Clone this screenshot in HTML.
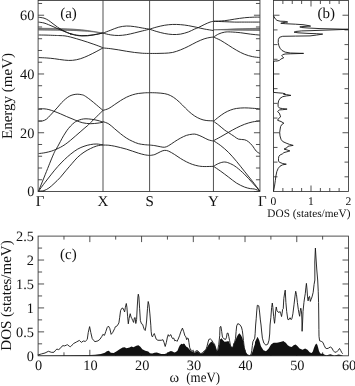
<!DOCTYPE html>
<html><head><meta charset="utf-8"><title>Phonon dispersion and DOS</title>
<style>html,body{margin:0;padding:0;background:#fff}svg{display:block}</style></head>
<body>
<svg width="355" height="386" viewBox="0 0 355 386">
<rect width="355" height="386" fill="#fff"/>
<path d="M38.3,27.9 L57.5,28.2 L65,28.5 L76.3,29.1 L87.5,30.2 L103,33 L87.5,31.6 L76.3,30.9 L65,30.6 L57.5,30.5 L38.3,30.3 Z" fill="#858585"/>
<path d="M213.45,29.8 L236,28.6 L259.9,27.9 L259.9,30.7 L236,30.4 Z" fill="#858585"/>
<g fill="none" stroke="#5a5a5a" stroke-width="0.6">
<path d="M38.50,28.20 C41.67,28.25 53.08,28.40 57.50,28.50 C61.92,28.60 61.87,28.65 65.00,28.80 C68.13,28.95 72.55,29.12 76.30,29.40 C80.05,29.68 83.05,29.90 87.50,30.50 C91.95,31.10 100.42,32.58 103.00,33.00"/>
<path d="M38.50,30.00 C41.67,30.03 53.08,30.15 57.50,30.20 C61.92,30.25 61.87,30.23 65.00,30.30 C68.13,30.37 72.55,30.43 76.30,30.60 C80.05,30.77 83.05,30.90 87.50,31.30 C91.95,31.70 100.42,32.72 103.00,33.00"/>
<path d="M213.45,29.80 C217.21,29.67 228.26,29.27 236.00,29.00 C243.74,28.73 255.92,28.33 259.90,28.20"/>
<path d="M213.45,29.80 C217.21,29.83 228.26,29.90 236.00,30.00 C243.74,30.10 255.92,30.33 259.90,30.40"/>
</g>
<g fill="none" stroke="#151515" stroke-width="0.9" stroke-linejoin="round">
<path d="M38.38,17.24 C39.32,17.39 42.32,17.62 44.01,18.14 C45.70,18.67 47.02,19.46 48.52,20.39 C50.02,21.33 51.53,22.65 53.03,23.77 C54.53,24.90 56.03,26.12 57.54,27.15 C59.04,28.19 60.54,29.13 62.04,29.97 C63.54,30.82 65.05,31.53 66.55,32.23 C68.05,32.92 70.38,33.86 71.06,34.14 C71.74,34.42 69.77,33.71 70.63,33.92 C71.50,34.12 74.39,35.04 76.27,35.38 C78.15,35.72 80.02,35.87 81.90,35.94 C83.78,36.02 85.66,35.98 87.54,35.83 C89.41,35.68 91.29,35.36 93.17,35.04 C95.05,34.72 97.21,34.25 98.80,33.92 C100.40,33.58 102.09,33.16 102.75,33.01"/>
<path d="M38.38,22.08 C39.32,22.23 42.32,22.55 44.01,22.99 C45.70,23.42 47.02,24.08 48.52,24.68 C50.02,25.28 51.53,25.93 53.03,26.59 C54.53,27.25 56.03,27.96 57.54,28.62 C59.04,29.28 60.54,29.92 62.04,30.54 C63.54,31.15 65.05,31.77 66.55,32.34 C68.05,32.90 70.38,33.69 71.06,33.92 C71.74,34.14 69.77,33.50 70.63,33.69 C71.50,33.88 74.39,34.72 76.27,35.04 C78.15,35.36 80.02,35.53 81.90,35.61 C83.78,35.68 85.66,35.62 87.54,35.49 C89.41,35.36 91.29,35.10 93.17,34.82 C95.05,34.54 97.21,34.10 98.80,33.80 C100.40,33.50 102.09,33.15 102.75,33.01"/>
<path d="M38.50,35.00 C39.75,35.02 43.30,35.03 46.00,35.10 C48.70,35.17 52.37,35.32 54.70,35.40 C57.03,35.48 58.28,35.52 60.00,35.60 C61.72,35.68 63.23,35.65 65.00,35.90 C66.77,36.15 68.76,36.61 70.63,37.07 C72.51,37.53 74.39,38.10 76.27,38.65 C78.15,39.19 80.02,39.76 81.90,40.34 C83.78,40.92 85.66,41.52 87.54,42.14 C89.41,42.76 91.29,43.40 93.17,44.06 C95.05,44.71 97.21,45.48 98.80,46.08 C100.40,46.69 102.09,47.40 102.75,47.66"/>
<path d="M38.55,57.58 C39.93,57.64 44.14,57.77 46.83,57.97 C49.53,58.17 51.76,58.40 54.72,58.76 C57.68,59.12 61.62,59.88 64.58,60.14 C67.54,60.40 69.84,60.57 72.46,60.34 C75.09,60.11 77.72,59.55 80.35,58.76 C82.98,57.97 85.61,56.79 88.24,55.61 C90.87,54.42 93.66,52.94 96.13,51.66 C98.59,50.38 101.88,48.54 103.03,47.92"/>
<path d="M38.50,121.10 C39.18,121.07 41.28,121.22 42.60,120.90 C43.92,120.58 45.13,120.12 46.40,119.20 C47.67,118.28 48.93,116.72 50.20,115.40 C51.47,114.08 52.73,112.68 54.00,111.30 C55.27,109.92 56.53,108.53 57.80,107.10 C59.07,105.67 60.33,104.03 61.60,102.70 C62.87,101.37 64.13,100.17 65.40,99.10 C66.67,98.03 67.93,97.02 69.20,96.30 C70.47,95.58 71.67,95.15 73.00,94.80 C74.33,94.45 75.87,94.23 77.20,94.20 C78.53,94.17 79.82,94.37 81.00,94.60 C82.18,94.83 82.75,94.73 84.30,95.60 C85.85,96.47 88.27,98.25 90.30,99.80 C92.33,101.35 94.38,103.13 96.50,104.90 C98.62,106.67 101.92,109.48 103.00,110.40"/>
<path d="M38.50,108.80 C39.40,108.80 42.17,108.67 43.90,108.80 C45.63,108.93 47.22,109.18 48.90,109.60 C50.58,110.02 52.08,110.60 54.00,111.30 C55.92,112.00 58.28,112.92 60.40,113.80 C62.52,114.68 64.60,115.70 66.70,116.60 C68.80,117.50 71.27,118.48 73.00,119.20 C74.73,119.92 75.47,120.30 77.10,120.90 C78.73,121.50 80.58,122.33 82.80,122.80 C85.02,123.27 87.87,123.65 90.40,123.70 C92.93,123.75 95.90,123.35 98.00,123.10 C100.10,122.85 102.17,122.35 103.00,122.20"/>
<path d="M38.50,191.20 C39.18,189.52 41.07,184.90 42.60,181.10 C44.13,177.30 46.22,172.10 47.70,168.40 C49.18,164.70 50.38,161.60 51.50,158.90 C52.62,156.20 53.67,153.75 54.40,152.20 C55.13,150.65 55.33,150.58 55.90,149.60 C56.47,148.62 57.05,147.65 57.80,146.30 C58.55,144.95 59.45,143.25 60.40,141.50 C61.35,139.75 62.45,137.58 63.50,135.80 C64.55,134.02 65.53,132.42 66.70,130.80 C67.87,129.18 69.23,127.47 70.50,126.10 C71.77,124.73 73.20,123.47 74.30,122.60 C75.40,121.73 75.90,121.45 77.10,120.90 C78.30,120.35 80.02,119.65 81.50,119.30 C82.98,118.95 84.30,118.80 86.00,118.80 C87.70,118.80 89.70,119.02 91.70,119.30 C93.70,119.58 96.12,120.02 98.00,120.50 C99.88,120.98 102.17,121.92 103.00,122.20"/>
<path d="M38.50,153.60 C39.60,153.45 42.93,153.12 45.10,152.70 C47.27,152.28 49.70,151.65 51.50,151.10 C53.30,150.55 54.42,150.03 55.90,149.40 C57.38,148.77 58.85,148.13 60.40,147.30 C61.95,146.47 63.52,145.57 65.20,144.40 C66.88,143.23 68.77,141.72 70.50,140.30 C72.23,138.88 74.00,137.28 75.60,135.90 C77.20,134.52 78.68,133.23 80.10,132.00 C81.52,130.77 82.82,129.60 84.10,128.50 C85.38,127.40 86.75,126.35 87.80,125.40 C88.85,124.45 88.90,124.28 90.40,122.80 C91.90,121.32 94.70,118.57 96.80,116.50 C98.90,114.43 101.97,111.42 103.00,110.40"/>
<path d="M38.50,191.20 C39.60,189.72 42.93,185.15 45.10,182.30 C47.27,179.45 49.38,176.73 51.50,174.10 C53.62,171.47 55.65,168.90 57.80,166.50 C59.95,164.10 62.23,161.78 64.40,159.70 C66.57,157.62 68.58,155.77 70.80,154.00 C73.02,152.23 75.50,150.38 77.70,149.10 C79.90,147.82 81.88,147.05 84.00,146.30 C86.12,145.55 88.28,144.98 90.40,144.60 C92.52,144.22 94.60,143.95 96.70,144.00 C98.80,144.05 101.95,144.75 103.00,144.90"/>
<path d="M38.50,191.20 C39.40,191.10 42.17,191.13 43.90,190.60 C45.63,190.07 47.22,189.17 48.90,188.00 C50.58,186.83 52.08,185.38 54.00,183.60 C55.92,181.82 58.37,179.52 60.40,177.30 C62.43,175.08 64.23,172.63 66.20,170.30 C68.17,167.97 70.28,165.48 72.20,163.30 C74.12,161.12 75.73,159.05 77.70,157.20 C79.67,155.35 81.88,153.63 84.00,152.20 C86.12,150.77 88.28,149.63 90.40,148.60 C92.52,147.57 94.60,146.62 96.70,146.00 C98.80,145.38 101.95,145.08 103.00,144.90"/>
<path d="M102.89,33.13 C104.20,32.63 108.15,31.15 110.77,30.17 C113.40,29.18 116.03,27.90 118.66,27.21 C121.29,26.52 123.92,26.13 126.55,26.03 C129.18,25.93 131.81,26.29 134.44,26.62 C137.07,26.95 139.79,27.57 142.32,28.00 C144.85,28.43 148.40,28.99 149.62,29.18"/>
<path d="M102.89,33.13 C104.20,33.42 108.15,34.51 110.77,34.90 C113.40,35.30 116.03,35.53 118.66,35.49 C121.29,35.46 123.92,35.13 126.55,34.70 C129.18,34.28 131.81,33.55 134.44,32.93 C137.07,32.31 139.79,31.58 142.32,30.96 C144.85,30.33 148.40,29.48 149.62,29.18"/>
<path d="M102.89,47.92 C104.20,48.05 108.15,48.38 110.77,48.70 C113.40,49.03 116.03,49.46 118.66,49.89 C121.29,50.31 123.92,50.84 126.55,51.27 C129.18,51.69 131.81,52.12 134.44,52.45 C137.07,52.78 139.79,53.08 142.32,53.24 C144.85,53.40 148.40,53.40 149.62,53.44"/>
<path d="M102.89,110.42 C103.87,110.09 106.83,109.44 108.80,108.45 C110.77,107.46 112.75,105.82 114.72,104.51 C116.69,103.19 118.66,101.78 120.63,100.56 C122.61,99.35 124.58,98.16 126.55,97.21 C128.52,96.26 130.49,95.47 132.46,94.85 C134.44,94.22 136.41,93.79 138.38,93.46 C140.35,93.14 142.42,93.00 144.30,92.87 C146.17,92.74 148.73,92.71 149.62,92.68"/>
<path d="M102.89,121.58 C103.87,121.97 106.83,122.73 108.80,123.94 C110.77,125.16 112.75,127.23 114.72,128.87 C116.69,130.52 118.66,132.26 120.63,133.80 C122.61,135.35 124.58,136.89 126.55,138.14 C128.52,139.39 130.49,140.38 132.46,141.30 C134.44,142.22 136.41,143.10 138.38,143.66 C140.35,144.22 142.42,144.42 144.30,144.65 C146.17,144.88 148.73,144.98 149.62,145.04"/>
<path d="M102.89,145.04 C103.87,145.08 106.83,145.04 108.80,145.24 C110.77,145.44 112.75,145.83 114.72,146.23 C116.69,146.62 118.66,147.11 120.63,147.61 C122.61,148.10 124.58,148.59 126.55,149.18 C128.52,149.77 130.49,150.50 132.46,151.15 C134.44,151.81 136.41,152.54 138.38,153.13 C140.35,153.72 142.42,154.31 144.30,154.70 C146.17,155.10 148.73,155.36 149.62,155.49"/>
<path d="M149.54,29.18 C150.75,28.82 154.30,27.67 156.83,27.01 C159.36,26.36 162.09,25.67 164.72,25.24 C167.35,24.81 169.98,24.55 172.61,24.45 C175.23,24.35 177.86,24.45 180.49,24.65 C183.12,24.85 185.75,25.21 188.38,25.63 C191.01,26.06 193.64,26.65 196.27,27.21 C198.90,27.77 201.26,28.43 204.15,28.99 C207.05,29.54 212.04,30.30 213.62,30.56"/>
<path d="M149.54,29.18 C150.75,29.58 154.30,30.83 156.83,31.55 C159.36,32.27 162.09,33.03 164.72,33.52 C167.35,34.01 169.98,34.41 172.61,34.51 C175.23,34.61 177.86,34.54 180.49,34.11 C183.12,33.69 186.08,32.77 188.38,31.94 C190.68,31.12 192.65,29.91 194.30,29.18 C195.94,28.46 196.60,28.36 198.24,27.61 C199.88,26.85 202.18,25.57 204.15,24.65 C206.13,23.73 208.49,22.64 210.07,22.08 C211.65,21.53 213.03,21.43 213.62,21.30"/>
<path d="M149.54,53.44 C150.75,53.44 154.30,53.47 156.83,53.44 C159.36,53.40 162.09,53.40 164.72,53.24 C167.35,53.08 169.98,53.01 172.61,52.45 C175.23,51.89 177.86,50.91 180.49,49.89 C183.12,48.87 185.75,47.62 188.38,46.34 C191.01,45.06 193.64,43.45 196.27,42.20 C198.90,40.95 201.85,39.63 204.15,38.85 C206.46,38.06 208.49,37.76 210.07,37.46 C211.65,37.17 213.03,37.14 213.62,37.07"/>
<path d="M149.54,92.68 C150.75,92.71 154.30,92.71 156.83,92.87 C159.36,93.04 162.42,93.20 164.72,93.66 C167.02,94.12 168.66,94.65 170.63,95.63 C172.61,96.62 174.58,98.00 176.55,99.58 C178.52,101.15 180.49,103.19 182.46,105.10 C184.44,107.00 186.41,109.24 188.38,111.01 C190.35,112.79 192.32,114.43 194.30,115.75 C196.27,117.06 198.24,118.11 200.21,118.90 C202.18,119.69 203.89,120.15 206.13,120.48 C208.36,120.81 212.37,120.81 213.62,120.87"/>
<path d="M149.54,145.04 C150.42,145.14 152.99,145.34 154.86,145.63 C156.73,145.93 159.13,146.55 160.77,146.82 C162.42,147.08 163.40,147.41 164.72,147.21 C166.03,147.01 167.02,146.55 168.66,145.63 C170.31,144.71 172.61,142.94 174.58,141.69 C176.55,140.44 178.52,139.19 180.49,138.14 C182.46,137.09 184.44,136.04 186.41,135.38 C188.38,134.72 190.68,134.36 192.32,134.20 C193.97,134.03 194.62,133.97 196.27,134.39 C197.91,134.82 200.21,135.87 202.18,136.76 C204.15,137.65 206.19,139.00 208.10,139.72 C210.00,140.44 212.70,140.87 213.62,141.10"/>
<path d="M149.54,155.49 C150.42,155.33 152.99,155.16 154.86,154.51 C156.73,153.85 159.13,152.24 160.77,151.55 C162.42,150.86 163.40,150.43 164.72,150.37 C166.03,150.30 167.02,150.46 168.66,151.15 C170.31,151.85 172.61,153.29 174.58,154.51 C176.55,155.72 178.52,157.23 180.49,158.45 C182.46,159.67 184.44,160.82 186.41,161.80 C188.38,162.79 190.35,163.68 192.32,164.37 C194.30,165.06 196.27,165.58 198.24,165.94 C200.21,166.31 201.59,166.47 204.15,166.54 C206.72,166.60 212.04,166.37 213.62,166.34"/>
<path d="M213.48,21.30 C215.35,21.20 221.20,21.07 224.72,20.70 C228.23,20.34 231.29,19.62 234.58,19.13 C237.86,18.63 241.15,18.08 244.44,17.75 C247.72,17.42 251.73,17.25 254.30,17.15 C256.86,17.06 258.90,17.15 259.82,17.15"/>
<path d="M213.48,21.30 C215.35,21.36 221.20,21.56 224.72,21.69 C228.23,21.82 231.29,22.02 234.58,22.08 C237.86,22.15 240.23,22.08 244.44,22.08 C248.64,22.08 257.25,22.08 259.82,22.08"/>
<path d="M213.48,37.07 C214.37,36.54 216.93,34.74 218.80,33.92 C220.68,33.09 222.75,32.47 224.72,32.14 C226.69,31.81 228.00,31.85 230.63,31.94 C233.26,32.04 237.21,32.37 240.49,32.73 C243.78,33.09 247.13,33.72 250.35,34.11 C253.57,34.51 258.24,34.93 259.82,35.10"/>
<path d="M213.48,37.07 C214.69,37.63 218.24,39.04 220.77,40.42 C223.31,41.80 226.03,43.71 228.66,45.35 C231.29,47.00 233.92,48.80 236.55,50.28 C239.18,51.76 241.81,53.17 244.44,54.23 C247.07,55.28 249.76,56.03 252.32,56.59 C254.89,57.15 258.57,57.41 259.82,57.58"/>
<path d="M213.48,121.27 C214.37,120.54 216.93,118.34 218.80,116.93 C220.68,115.52 222.75,113.94 224.72,112.79 C226.69,111.64 228.66,110.75 230.63,110.03 C232.61,109.31 234.25,108.81 236.55,108.45 C238.85,108.09 241.81,107.89 244.44,107.86 C247.07,107.83 249.76,108.09 252.32,108.25 C254.89,108.42 258.57,108.75 259.82,108.85"/>
<path d="M213.48,121.27 C214.37,121.92 216.93,123.73 218.80,125.21 C220.68,126.69 223.08,128.89 224.72,130.14 C226.36,131.39 227.02,131.62 228.66,132.70 C230.31,133.79 232.93,135.58 234.58,136.65 C236.22,137.72 236.88,138.62 238.52,139.13 C240.16,139.64 242.79,139.29 244.44,139.72 C246.08,140.15 247.07,140.70 248.38,141.69 C249.69,142.68 251.01,144.06 252.32,145.63 C253.64,147.21 255.02,149.84 256.27,151.15 C257.52,152.47 259.23,153.13 259.82,153.52"/>
<path d="M213.48,140.70 C214.69,140.05 218.24,138.17 220.77,136.76 C223.31,135.35 226.03,133.70 228.66,132.23 C231.29,130.75 233.92,129.20 236.55,127.89 C239.18,126.57 241.81,125.32 244.44,124.34 C247.07,123.35 249.76,122.53 252.32,121.97 C254.89,121.41 258.57,121.15 259.82,120.99"/>
<path d="M213.48,140.70 C214.69,141.53 218.24,143.66 220.77,145.63 C223.31,147.61 226.03,149.91 228.66,152.54 C231.29,155.16 233.92,158.29 236.55,161.41 C239.18,164.53 241.81,167.98 244.44,171.27 C247.07,174.55 249.76,177.84 252.32,181.13 C254.89,184.41 258.57,189.34 259.82,190.99"/>
<path d="M213.48,166.34 C214.37,165.85 216.93,164.10 218.80,163.38 C220.68,162.66 222.75,161.93 224.72,162.00 C226.69,162.07 228.66,162.89 230.63,163.77 C232.61,164.66 234.25,165.58 236.55,167.32 C238.85,169.07 241.81,171.66 244.44,174.23 C247.07,176.79 249.76,179.91 252.32,182.70 C254.89,185.50 258.57,189.61 259.82,190.99"/>
<path d="M213.48,166.34 C214.69,167.16 218.24,169.46 220.77,171.27 C223.31,173.08 226.03,175.21 228.66,177.18 C231.29,179.15 233.92,181.46 236.55,183.10 C239.18,184.74 242.14,186.12 244.44,187.04 C246.74,187.96 248.71,188.29 250.35,188.62 C252.00,188.95 252.72,188.62 254.30,189.01 C255.87,189.41 258.90,190.66 259.82,190.99"/>
</g>
<g fill="none" stroke="#333" stroke-width="0.85">
<rect x="38.1" y="0.5" width="221.85" height="191.0"/>
<path d="M103.0,0.5V191.5"/>
<path d="M149.6,0.5V191.5"/>
<path d="M213.45,0.5V191.5"/>
<path d="M38.1,191.50h6M259.95,191.50h-6M38.1,179.75h4M259.95,179.75h-4M38.1,168.00h4M259.95,168.00h-4M38.1,156.24h4M259.95,156.24h-4M38.1,144.49h4M259.95,144.49h-4M38.1,132.74h6M259.95,132.74h-6M38.1,120.99h4M259.95,120.99h-4M38.1,109.24h4M259.95,109.24h-4M38.1,97.48h4M259.95,97.48h-4M38.1,85.73h4M259.95,85.73h-4M38.1,73.98h6M259.95,73.98h-6M38.1,62.23h4M259.95,62.23h-4M38.1,50.48h4M259.95,50.48h-4M38.1,38.72h4M259.95,38.72h-4M38.1,26.97h4M259.95,26.97h-4M38.1,15.22h6M259.95,15.22h-6M38.1,3.47h4M259.95,3.47h-4"/>
<rect x="273.5" y="0.5" width="75.0" height="191.0"/>
<path d="M273.5,176.81h4M348.5,176.81h-4M273.5,162.12h4M348.5,162.12h-4M273.5,147.43h4M348.5,147.43h-4M273.5,132.74h6M348.5,132.74h-6M273.5,118.05h4M348.5,118.05h-4M273.5,103.36h4M348.5,103.36h-4M273.5,88.67h4M348.5,88.67h-4M273.5,73.98h6M348.5,73.98h-6M273.5,59.29h4M348.5,59.29h-4M273.5,44.60h4M348.5,44.60h-4M273.5,29.91h4M348.5,29.91h-4M273.5,15.22h6M348.5,15.22h-6M282.88,191.5v-3.5M282.88,0.5v3.5M292.25,191.5v-3.5M292.25,0.5v3.5M301.62,191.5v-3.5M301.62,0.5v3.5M311.00,191.5v-6M311.00,0.5v6M320.38,191.5v-3.5M320.38,0.5v3.5M329.75,191.5v-3.5M329.75,0.5v3.5M339.12,191.5v-3.5M339.12,0.5v3.5"/>
<rect x="38.1" y="236.1" width="310.4" height="119.70000000000002"/>
<path d="M63.97,355.8v-3.5M63.97,236.1v3.5M89.83,355.8v-6M89.83,236.1v6M115.70,355.8v-3.5M115.70,236.1v3.5M141.57,355.8v-6M141.57,236.1v6M167.43,355.8v-3.5M167.43,236.1v3.5M193.30,355.8v-6M193.30,236.1v6M219.17,355.8v-3.5M219.17,236.1v3.5M245.03,355.8v-6M245.03,236.1v6M270.90,355.8v-3.5M270.90,236.1v3.5M296.77,355.8v-6M296.77,236.1v6M322.63,355.8v-3.5M322.63,236.1v3.5M38.1,343.83h4M348.5,343.83h-4M38.1,331.86h6M348.5,331.86h-6M38.1,319.89h4M348.5,319.89h-4M38.1,307.92h6M348.5,307.92h-6M38.1,295.95h4M348.5,295.95h-4M38.1,283.98h6M348.5,283.98h-6M38.1,272.01h4M348.5,272.01h-4M38.1,260.04h6M348.5,260.04h-6M38.1,248.07h4M348.5,248.07h-4"/>
</g>
<path d="M273.50,15.70 L274.20,17.00 L275.30,18.90 L277.00,20.40 L280.10,21.20 L285.20,21.40 L287.70,22.00 L282.70,22.70 L280.80,23.30 L285.20,23.70 L295.40,24.20 L303.00,24.70 L308.00,25.50 L310.60,26.10 L303.00,26.50 L299.80,26.90 L301.70,27.50 L308.00,28.00 L320.00,28.60 L348.30,29.30 L329.00,30.00 L320.00,30.30 L310.00,30.70 L301.70,30.90 L295.40,31.50 L294.10,32.20 L298.00,32.80 L308.00,33.40 L316.30,33.70 L322.70,34.10 L316.30,35.10 L310.00,35.90 L295.40,36.10 L282.70,36.30 L279.50,37.30 L278.40,39.40 L278.20,42.60 L278.90,45.80 L280.10,48.30 L282.00,50.50 L285.20,52.10 L290.30,53.00 L303.60,53.40 L290.30,53.80 L285.20,54.00 L282.70,54.60 L281.70,55.90 L282.70,56.80 L283.70,57.80 L282.00,58.50 L280.80,59.10 L279.50,60.40 L277.00,61.00 L275.40,61.00 L273.50,61.40 L273.50,92.40 L278.90,92.90 L282.70,93.20 L285.20,93.90 L283.50,94.20 L286.50,94.60 L290.90,95.40 L286.50,95.90 L282.70,96.70 L280.10,98.30 L278.60,100.80 L278.00,104.00 L278.20,106.50 L279.50,108.10 L282.70,108.60 L287.10,109.10 L282.70,109.70 L279.30,109.90 L277.60,111.70 L279.30,113.10 L280.10,115.20 L280.60,116.90 L278.50,118.60 L277.60,120.30 L281.00,121.50 L283.90,123.20 L281.80,124.50 L280.60,126.60 L280.00,130.00 L279.70,132.50 L280.00,135.90 L281.00,139.30 L282.70,141.50 L286.10,143.10 L289.50,144.40 L293.20,145.40 L289.90,145.90 L287.80,146.40 L286.90,147.80 L284.80,148.60 L284.00,149.10 L286.90,149.90 L289.90,150.90 L286.90,151.80 L283.90,152.60 L282.70,153.70 L280.10,155.00 L278.90,156.20 L278.50,158.40 L278.50,160.90 L278.70,161.50 L280.00,162.50 L282.70,163.50 L286.30,164.20 L282.70,164.80 L280.00,166.20 L278.20,168.40 L276.80,171.60 L275.90,176.10 L275.30,180.70 L274.50,186.10 L273.50,191.30" fill="none" stroke="#151515" stroke-width="0.9" stroke-linejoin="round"/>
<path d="M38.10,355.80 L37.96,355.41 L64.58,355.21 L90.21,355.01 L105.00,354.23 L95.00,354.68 L100.92,354.08 L104.86,352.70 L106.83,351.13 L108.80,350.73 L110.77,352.70 L113.73,353.10 L116.69,351.13 L119.65,349.15 L122.61,347.58 L124.58,347.18 L126.55,348.17 L129.51,347.58 L131.48,346.59 L133.45,347.18 L136.41,345.80 L138.38,345.21 L140.35,346.79 L142.32,349.15 L145.28,350.73 L148.24,351.52 L150.00,353.24 L152.25,353.58 L154.51,352.68 L156.76,352.45 L159.01,353.24 L161.27,354.03 L164.65,354.03 L166.90,353.24 L168.59,352.11 L170.85,350.99 L172.54,351.55 L174.23,352.45 L175.92,352.11 L177.61,350.42 L178.73,347.61 L179.86,345.35 L181.55,343.66 L182.68,344.23 L183.80,343.44 L184.93,344.23 L185.00,344.79 L186.13,346.48 L187.82,347.61 L189.51,349.52 L191.20,350.99 L192.89,352.11 L194.58,352.90 L196.27,351.55 L197.96,351.32 L199.08,352.68 L200.77,353.80 L203.03,352.90 L204.72,350.65 L206.18,349.30 L207.54,346.48 L208.89,344.23 L210.35,342.54 L211.82,341.41 L213.17,343.10 L214.52,344.56 L215.65,347.61 L216.77,351.32 L217.90,350.42 L219.03,345.92 L220.00,339.41 L221.69,338.28 L222.82,339.97 L224.51,341.66 L226.76,341.44 L228.45,341.10 L229.58,343.35 L230.70,346.17 L232.17,347.52 L233.30,345.94 L234.08,343.35 L235.21,341.10 L236.68,337.15 L238.03,334.68 L239.38,333.21 L240.85,334.90 L242.31,337.72 L243.44,342.23 L244.56,348.42 L245.92,352.70 L247.61,354.96 L249.52,355.63 L251.32,354.62 L252.68,351.24 L253.80,347.30 L254.93,343.92 L255.00,341.90 L257.54,336.83 L259.23,340.21 L260.92,346.13 L263.45,350.35 L265.99,351.20 L268.52,348.66 L271.06,344.44 L273.59,342.75 L276.97,342.75 L280.35,341.90 L283.73,341.06 L283.80,341.59 L285.77,342.77 L287.75,345.14 L289.72,346.52 L291.69,347.11 L293.66,345.14 L295.63,344.55 L297.61,346.13 L299.58,348.49 L302.54,349.68 L305.10,348.49 L307.46,349.68 L309.44,352.04 L310.00,352.61 L311.69,352.94 L312.82,351.48 L313.94,348.10 L315.07,345.28 L316.20,343.59 L317.32,344.72 L318.11,347.54 L319.01,350.92 L320.14,353.17 L321.27,353.73 L322.96,353.39 L324.08,354.52 L326.34,355.20 L328.59,354.86 L330.28,354.30 L331.97,354.86 L334.23,355.42 L336.48,354.97 L338.73,354.52 L340.99,354.97 L342.68,355.54 L343.00,355.80Z" fill="#111" stroke="none"/>
<path d="M37.96,354.23 L38.48,354.79 L41.63,353.89 L45.01,352.99 L48.39,351.30 L50.08,351.86 L51.77,352.42 L54.03,352.20 L55.72,350.17 L56.85,349.04 L58.54,349.61 L60.23,348.48 L61.92,346.23 L63.04,345.66 L64.73,345.89 L66.42,345.10 L67.55,344.76 L69.24,346.23 L70.37,346.79 L72.06,345.10 L73.75,343.41 L76.00,342.28 L76.41,342.00 L79.37,340.42 L81.34,342.39 L83.31,341.01 L85.28,341.41 L87.25,339.44 L88.24,332.54 L89.62,326.62 L90.80,332.54 L92.18,338.45 L93.76,340.62 L95.00,341.66 L97.96,340.87 L99.93,339.30 L101.90,336.34 L102.89,334.37 L104.46,335.35 L105.85,331.41 L107.23,327.46 L108.41,326.08 L109.79,328.45 L111.17,334.37 L112.75,332.39 L114.72,328.45 L115.00,327.20 L117.30,325.70 L118.90,322.90 L119.70,317.30 L120.60,310.50 L121.80,308.30 L122.90,308.10 L124.00,310.50 L124.60,311.90 L125.40,307.20 L126.30,303.50 L126.90,307.20 L127.60,316.20 L128.30,323.80 L129.10,318.40 L130.20,313.70 L131.10,317.10 L131.90,318.60 L132.80,320.70 L133.60,322.40 L134.40,317.90 L135.10,317.50 L135.80,323.50 L136.60,319.50 L137.30,306.00 L137.90,297.00 L138.30,294.20 L138.90,297.00 L139.60,308.30 L140.40,320.70 L141.50,323.80 L142.60,324.30 L143.40,326.90 L144.30,329.50 L145.20,330.50 L146.00,326.00 L146.60,321.00 L147.50,308.30 L148.20,301.50 L149.00,304.90 L149.90,313.90 L150.80,325.20 L151.13,331.27 L151.69,335.77 L152.48,336.90 L153.38,334.65 L154.28,333.52 L155.07,335.77 L156.20,339.15 L157.89,340.28 L161.27,340.28 L162.96,339.72 L164.08,342.54 L165.21,346.48 L166.34,342.54 L167.46,336.90 L168.25,334.65 L169.15,336.34 L170.06,335.21 L170.85,334.65 L171.63,336.90 L172.54,338.59 L173.66,338.03 L174.79,340.85 L175.92,340.28 L177.04,341.41 L178.17,339.15 L179.52,335.77 L180.99,331.27 L182.45,328.11 L183.58,331.27 L184.93,335.77 L185.00,335.77 L185.90,336.90 L186.69,339.72 L187.48,338.03 L188.38,338.59 L188.94,342.54 L189.73,347.61 L190.63,349.86 L191.76,350.42 L192.89,350.99 L194.01,352.68 L195.70,350.99 L197.39,350.65 L199.08,352.11 L200.77,353.58 L202.46,352.90 L204.15,350.99 L205.85,349.86 L206.97,346.48 L208.10,341.97 L208.89,339.38 L210.35,338.93 L211.82,340.28 L213.17,342.54 L214.52,344.23 L215.42,347.04 L216.55,350.99 L217.68,350.42 L218.80,344.23 L219.70,335.77 L220.00,327.01 L220.90,326.45 L221.69,331.52 L222.48,337.15 L223.94,338.85 L225.63,339.41 L226.54,337.15 L227.10,333.21 L228.11,333.21 L228.79,336.59 L229.58,340.54 L230.37,345.04 L231.27,347.30 L232.39,347.52 L233.30,346.17 L233.75,343.35 L234.65,342.23 L235.55,338.28 L236.11,331.52 L236.68,325.89 L237.80,323.63 L239.72,324.54 L241.41,327.01 L242.31,330.39 L242.87,334.90 L243.44,340.54 L244.23,347.30 L245.35,351.80 L247.04,354.62 L249.30,355.52 L250.99,354.62 L251.77,350.68 L252.34,345.61 L252.90,341.66 L253.80,339.97 L254.70,338.28 L255.15,333.77 L255.63,325.00 L256.20,318.80 L256.76,310.92 L257.32,305.28 L258.79,305.85 L259.58,312.04 L260.37,319.93 L261.04,325.00 L261.60,331.00 L262.40,338.20 L263.90,343.20 L265.90,345.10 L267.80,344.20 L269.00,340.20 L269.70,334.00 L270.06,325.00 L270.85,317.68 L271.63,307.54 L272.31,303.03 L272.87,307.54 L273.66,316.55 L274.56,323.31 L275.01,318.80 L275.69,310.92 L276.25,306.97 L277.04,310.92 L278.17,312.04 L279.07,312.61 L279.86,311.48 L280.65,313.17 L281.55,316.55 L282.11,313.17 L282.68,309.23 L283.24,308.66 L283.80,298.52 L284.70,292.89 L285.23,290.14 L285.90,302.54 L286.69,311.55 L287.82,319.44 L288.94,319.66 L290.07,317.75 L291.20,319.66 L291.99,318.31 L292.89,313.80 L294.01,304.79 L294.92,296.90 L295.70,291.27 L296.49,294.65 L297.39,302.54 L298.30,309.30 L299.08,313.80 L299.65,316.28 L300.21,310.99 L300.77,308.17 L301.34,310.42 L301.68,314.93 L301.90,320.00 L302.10,331.30 L302.60,322.00 L303.03,311.55 L303.93,302.54 L304.72,296.90 L305.28,293.75 L305.85,287.89 L306.41,283.38 L306.97,289.01 L307.54,296.90 L308.10,300.85 L308.89,296.90 L309.56,296.34 L310.35,301.41 L311.14,299.15 L312.04,296.90 L313.17,292.39 L314.07,284.51 L314.86,280.00 L314.80,262.00 L315.40,248.10 L316.00,258.00 L316.80,270.00 L317.68,280.00 L318.24,291.27 L318.58,302.54 L318.80,320.00 L318.90,329.51 L319.01,336.27 L319.58,340.77 L321.27,341.34 L322.96,342.46 L324.08,345.28 L325.55,348.10 L326.90,348.66 L328.59,348.10 L330.28,346.97 L331.97,348.10 L333.10,350.35 L334.79,352.27 L336.48,352.04 L338.17,350.35 L339.52,348.44 L340.65,350.35 L341.77,352.61 L342.68,353.73" fill="none" stroke="#151515" stroke-width="0.9" stroke-linejoin="round"/>
<g font-family="'Liberation Serif', serif" font-size="14.3" fill="#111" text-rendering="geometricPrecision">
<text x="34.3" y="196.40" text-anchor="end">0</text>
<text x="34.3" y="137.64" text-anchor="end">20</text>
<text x="34.3" y="78.88" text-anchor="end">40</text>
<text x="34.3" y="20.12" text-anchor="end">60</text>
<text x="33.9" y="360.50" text-anchor="end">0</text>
<text x="33.9" y="336.56" text-anchor="end">0.5</text>
<text x="33.9" y="312.62" text-anchor="end">1</text>
<text x="33.9" y="288.68" text-anchor="end">1.5</text>
<text x="33.9" y="264.74" text-anchor="end">2</text>
<text x="33.9" y="240.80" text-anchor="end">2.5</text>
<text x="38.70" y="370.2" text-anchor="middle">0</text>
<text x="90.43" y="370.2" text-anchor="middle">10</text>
<text x="142.17" y="370.2" text-anchor="middle">20</text>
<text x="193.90" y="370.2" text-anchor="middle">30</text>
<text x="245.63" y="370.2" text-anchor="middle">40</text>
<text x="297.37" y="370.2" text-anchor="middle">50</text>
<text x="349.10" y="370.2" text-anchor="middle">60</text>
</g>
<g font-family="'Liberation Serif', serif" font-size="15.0" fill="#111" text-rendering="geometricPrecision">
<text x="40.1" y="206.3" text-anchor="middle">Γ</text>
<text x="103.0" y="206.3" text-anchor="middle">X</text>
<text x="149.6" y="206.3" text-anchor="middle">S</text>
<text x="213.45" y="206.3" text-anchor="middle">Y</text>
<text x="262.25" y="206.3" text-anchor="middle">Γ</text>
<text x="60.2" y="17.6">(a)</text>
<text x="317.4" y="18.0">(b)</text>
<text x="60.0" y="259.2">(c)</text>
<text transform="translate(11.8,96) rotate(-90)" text-anchor="middle">Energy (meV)</text>
<text transform="translate(11.2,295.5) rotate(-90)" text-anchor="middle">DOS (states/meV)</text>
<text x="169.4" y="382" font-size="14.6">ω</text>
<text x="186.3" y="382" font-size="14.2" textLength="33.8" lengthAdjust="spacingAndGlyphs">(meV)</text>
</g>
<g font-family="'Liberation Serif', serif" font-size="11.3" fill="#111" text-rendering="geometricPrecision">
<text x="273.50" y="205.2" text-anchor="middle" font-size="11.6">0</text>
<text x="311.00" y="205.2" text-anchor="middle" font-size="11.6">1</text>
<text x="348.50" y="205.2" text-anchor="middle" font-size="11.6">2</text>
<text x="308.9" y="217.1" text-anchor="middle">DOS (states/meV)</text>
</g>
</svg>
</body></html>
